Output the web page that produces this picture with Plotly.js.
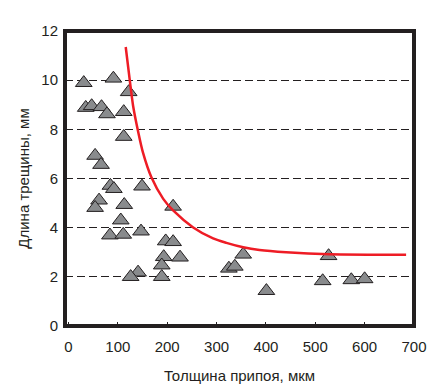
<!DOCTYPE html>
<html>
<head>
<meta charset="utf-8">
<script src="https://cdn.plot.ly/plotly-3.0.1.min.js"></script>
<style>
html,body{margin:0;padding:0;background:#fff;}
#chart{width:440px;height:392px;}
</style>
</head>
<body>
<div id="chart"></div>
<script>
// Measured points: solder thickness (µm) vs crack length (mm)
const thickness = [31, 91, 122, 35, 47, 67, 78, 112, 112, 54, 66, 85, 92, 149, 62, 54, 113, 212, 106, 84, 111, 147, 197, 212, 193, 226, 189, 141, 126, 189, 325, 337, 354, 401, 527, 515, 573, 600];
const crackLength = [9.89, 10.07, 9.52, 8.88, 8.95, 8.91, 8.62, 8.71, 7.70, 6.93, 6.56, 5.71, 5.58, 5.68, 5.11, 4.81, 4.93, 4.86, 4.30, 3.69, 3.72, 3.85, 3.45, 3.42, 2.81, 2.79, 2.47, 2.18, 2.00, 2.00, 2.34, 2.42, 2.91, 1.43, 2.85, 1.83, 1.87, 1.91];

// Trend curve
const curveX = [116, 124, 131, 141, 151, 168, 192, 212, 252, 293, 320, 354, 387, 441, 529, 684];
const curveY = [11.35, 10.03, 8.95, 7.92, 7.05, 6.05, 5.17, 4.70, 4.02, 3.56, 3.38, 3.20, 3.09, 3.00, 2.92, 2.90];

const xTicks = [0, 100, 200, 300, 400, 500, 600, 700];
const yTicks = [0, 2, 4, 6, 8, 10, 12];

const ink = '#231f20';
const font = {family: '"Liberation Sans", Arial, Helvetica, sans-serif', size: 15, color: ink};

const traces = [
  {
    x: thickness, y: crackLength, type: 'scatter', mode: 'markers',
    marker: {symbol: 'triangle-up', size: 14.5, color: '#898b8d', line: {color: ink, width: 1}},
    hoverinfo: 'skip', showlegend: false
  },
  {
    x: curveX, y: curveY, type: 'scatter', mode: 'lines',
    line: {color: '#ee1c25', width: 2.5, shape: 'spline', smoothing: 0.8},
    hoverinfo: 'skip', showlegend: false
  }
];

const layout = {
  width: 440, height: 392,
  margin: {l: 65, r: 26, t: 31, b: 66},
  paper_bgcolor: '#fff', plot_bgcolor: '#fff',
  font: font,
  showlegend: false,
  xaxis: {
    range: [-7, 700], tickvals: xTicks, ticktext: xTicks.map(String),
    ticks: 'inside', ticklen: 4, tickwidth: 1, tickcolor: ink,
    showgrid: false, zeroline: false, showline: false,
    tickfont: font, ticklabelstandoff: 10,
    title: {text: 'Толщина припоя, мкм', font: font, standoff: 16}
  },
  yaxis: {
    range: [0, 12], tickvals: yTicks, ticktext: yTicks.map(String),
    ticks: 'inside', ticklen: 4, tickwidth: 1, tickcolor: ink,
    showgrid: true, gridcolor: ink, gridwidth: 1.3, griddash: '8px,4px',
    zeroline: false, showline: false,
    tickfont: font, ticklabelstandoff: 6,
    title: {text: 'Длина трещины, мм', font: font, standoff: 8}
  },
  shapes: [
    {type: 'rect', xref: 'paper', yref: 'paper', x0: 0, x1: 1, y0: 0, y1: 1,
     line: {color: ink, width: 4}, fillcolor: 'rgba(0,0,0,0)', layer: 'above'}
  ]
};

Plotly.newPlot('chart', traces, layout, {displayModeBar: false, staticPlot: true});
</script>
</body>
</html>
